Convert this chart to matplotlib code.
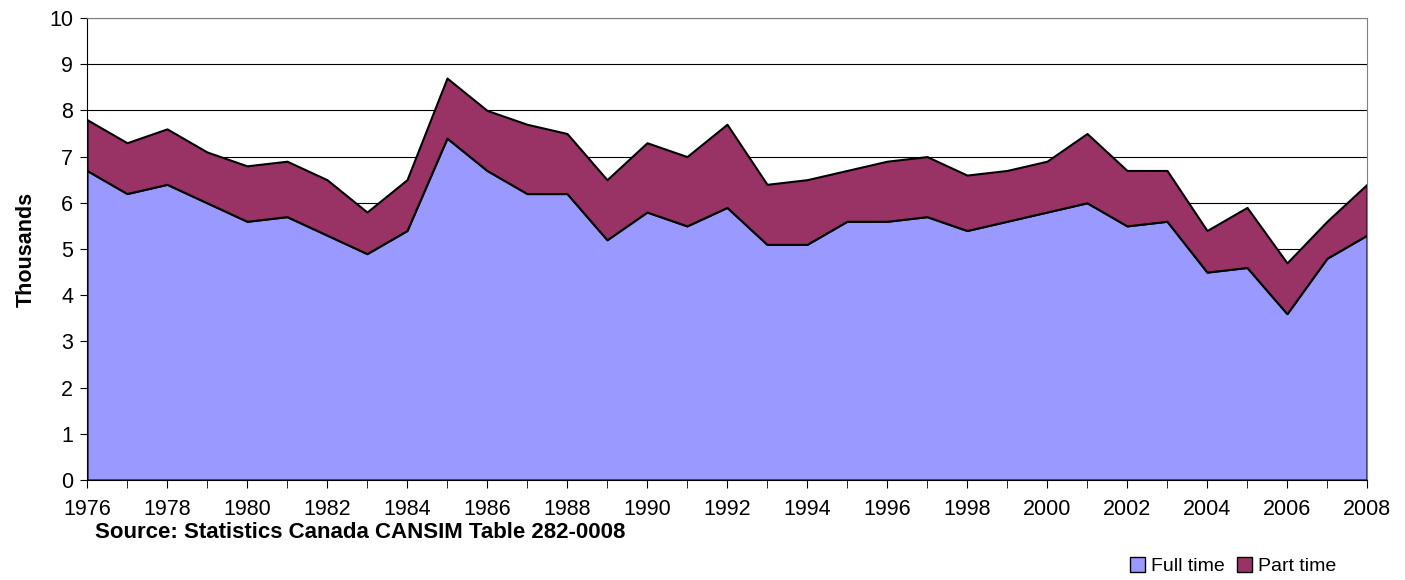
import matplotlib
matplotlib.use("Agg")
import matplotlib.pyplot as plt
import numpy as np

years = list(range(1976, 2009))
full_time = [6.7, 6.2, 6.4, 6.0, 5.6, 5.7, 5.3, 4.9, 5.4, 7.4, 6.7, 6.2, 6.2, 5.2, 5.8, 5.5, 5.9,
             5.1, 5.1, 5.6, 5.6, 5.7, 5.4, 5.6, 5.8, 6.0, 5.5, 5.6, 4.5, 4.6, 3.6, 4.8, 5.3]
total = [7.8, 7.3, 7.6, 7.1, 6.8, 6.9, 6.5, 5.8, 6.5, 8.7, 8.0, 7.7, 7.5, 6.5, 7.3, 7.0, 7.7,
         6.4, 6.5, 6.7, 6.9, 7.0, 6.6, 6.7, 6.9, 7.5, 6.7, 6.7, 5.4, 5.9, 4.7, 5.6, 6.4]
part_time = [round(t - f, 2) for t, f in zip(total, full_time)]
series_names = ["Full time", "Part time"]
colors = ["#9999FF", "#993366"]
y_ticks = list(range(0, 11))
x_tick_labels = [str(y) for y in range(1976, 2009, 2)]

plt.rcParams['font.family'] = ['Liberation Sans', 'DejaVu Sans']

fig = plt.figure(figsize=(14.05, 5.8), dpi=100)
ax = fig.add_axes([87 / 1405, 1 - 480 / 580, (1367 - 87) / 1405, (480 - 18) / 580])

ax.stackplot(years, full_time, part_time, colors=colors, labels=series_names,
             edgecolor="black", linewidth=1.5, zorder=2)

ax.set_xlim(1976, 2008)
ax.set_ylim(0, 10)
ax.set_yticks(y_ticks)
ax.set_xticks(list(range(1976, 2009, 2)))
ax.set_xticklabels(x_tick_labels)
ax.set_xticks(years, minor=True)
ax.grid(axis="y", color="black", linewidth=0.8, zorder=0)
ax.set_axisbelow(True)

for side in ["top", "right"]:
    ax.spines[side].set_color("#808080")
    ax.spines[side].set_linewidth(0.8)
ax.spines["left"].set_color("black")
ax.spines["bottom"].set_color("black")

ax.tick_params(axis="both", which="both", direction="out", labelsize=15.5, color="black")
ax.tick_params(axis="x", which="major", length=6, pad=8)
ax.tick_params(axis="x", which="minor", length=6)
ax.tick_params(axis="y", length=5, pad=5)

ax.set_ylabel("Thousands", fontsize=15.5, fontweight="bold", labelpad=9)

fig.text(95 / 1405, 1 - 533 / 580, "Source: Statistics Canada CANSIM Table 282-0008",
         fontsize=16, fontweight="bold", va="center", ha="left")

handles, labels = ax.get_legend_handles_labels()
leg = fig.legend(handles, labels, loc="center", bbox_to_anchor=(1233 / 1405, 1 - 566 / 580),
                 ncol=2, frameon=False, fontsize=14, handlelength=0.8, handleheight=0.8,
                 handletextpad=0.3, columnspacing=0.6, borderpad=0, borderaxespad=0)
for h in leg.legend_handles:
    h.set_edgecolor("black")
    h.set_linewidth(1.0)

fig.savefig("out.png", dpi=100)
